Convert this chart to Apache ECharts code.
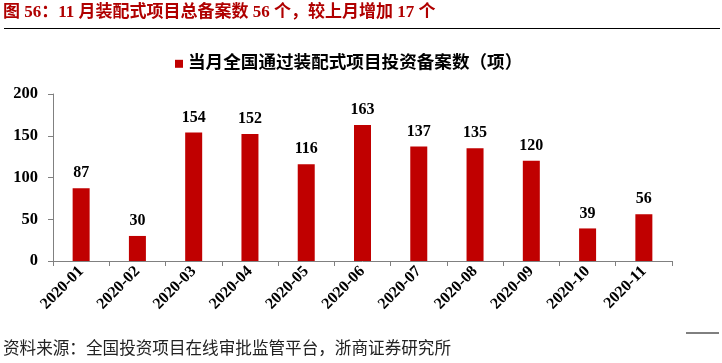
<!DOCTYPE html>
<html><head><meta charset="utf-8">
<script src="https://cdn.jsdelivr.net/npm/echarts@6/dist/echarts.min.js"></script>
<style>html,body{margin:0;padding:0;background:#fff;}#c{width:722px;height:363px;}</style>
</head><body><div id="c"></div>
<script>
const categories = ['2020-01','2020-02','2020-03','2020-04','2020-05','2020-06','2020-07','2020-08','2020-09','2020-10','2020-11'];
const values = [87,30,154,152,116,163,137,135,120,39,56];
const seriesName = '当月全国通过装配式项目投资备案数（项）';
const titleText = '图 56：11 月装配式项目总备案数 56 个，较上月增加 17 个';
const sourceText = '资料来源：全国投资项目在线审批监管平台，浙商证券研究所';
const FONT = '"Liberation Serif", "Noto Sans CJK SC", serif';
const chart = echarts.init(document.getElementById('c'), null, {renderer:'canvas'});
chart.setOption({
  animation:false,
  backgroundColor:'#fff',
  title:{text:titleText,left:3,top:4,padding:0,textStyle:{color:'#b00000',fontSize:17,fontWeight:'bold',fontFamily:FONT}},
  graphic:[
    {type:'line',shape:{x1:4,y1:28.5,x2:720,y2:28.5},style:{stroke:'#000',lineWidth:1.2}},
    {type:'line',shape:{x1:686,y1:333,x2:719,y2:333},style:{stroke:'#000',lineWidth:1}},
    {type:'text',x:3,y:348,style:{text:sourceText,fontSize:16.6,fill:'#222',verticalAlign:'middle',fontFamily:'"Noto Sans CJK SC", serif'}}
  ],
  legend:{data:[seriesName],top:55,left:175,padding:0,icon:'rect',itemWidth:8,itemHeight:8,
    textStyle:{fontSize:17.6,fontWeight:'bold',color:'#000',fontFamily:FONT}},
  grid:{left:53,right:50,top:94,bottom:102,containLabel:false},
  xAxis:{type:'category',data:categories,
    axisLine:{lineStyle:{color:'#808080',width:1}},
    axisTick:{show:true,alignWithLabel:false,length:5,lineStyle:{color:'#808080'}},
    axisLabel:{rotate:45,fontSize:16,fontWeight:'bold',color:'#000',fontFamily:FONT,margin:8}},
  yAxis:{type:'value',min:0,max:200,interval:50,
    axisLine:{show:true,lineStyle:{color:'#808080',width:1}},
    axisTick:{show:true,length:5,lineStyle:{color:'#808080'}},
    splitLine:{show:false},
    axisLabel:{fontSize:16.5,fontWeight:'bold',color:'#000',fontFamily:FONT,margin:15}},
  series:[{name:seriesName,type:'bar',data:values,barWidth:17,
    itemStyle:{color:'#c00000'},
    label:{show:true,position:'top',distance:7,fontSize:16,fontWeight:'bold',color:'#000',fontFamily:FONT}}]
});
</script></body></html>
